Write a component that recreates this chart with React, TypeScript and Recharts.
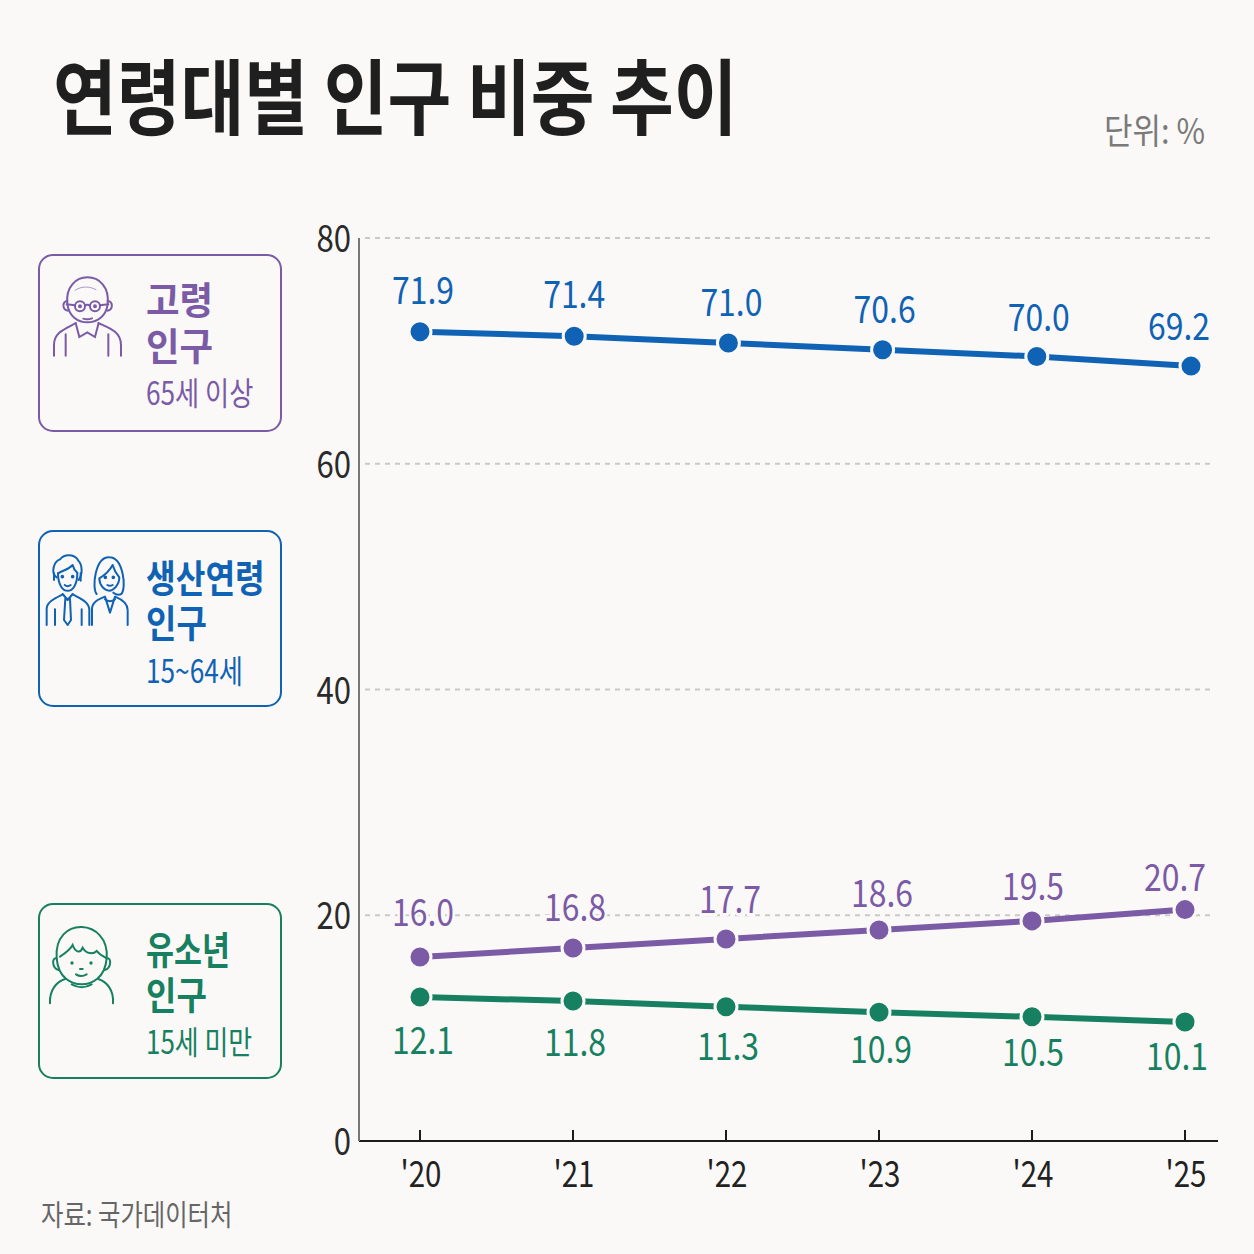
import React from "react";
import { LineChart, Line, XAxis, YAxis, ReferenceLine, LabelList } from "recharts";

const years = [2020, 2021, 2022, 2023, 2024, 2025];
const yTicks = [0, 20, 40, 60, 80];
const gridValues = [20, 40, 60, 80];

// Heights of the plotted marks
const workingPlotted = [71.7, 71.3, 70.7, 70.1, 69.5, 68.65];
const elderlyPlotted = [16.3, 17.1, 17.9, 18.7, 19.5, 20.5];
const youthPlotted = [12.75, 12.4, 11.9, 11.4, 11.0, 10.55];

// Printed value labels
const workingLabels = ["71.9", "71.4", "71.0", "70.6", "70.0", "69.2"];
const elderlyLabels = ["16.0", "16.8", "17.7", "18.6", "19.5", "20.7"];
const youthLabels = ["12.1", "11.8", "11.3", "10.9", "10.5", "10.1"];

const workingDx = [3, 0, 3, 2, 2, -12];
const elderlyDx = [3, 2, 4, 3, 1, -10];
const youthDx = [3, 2, 2, 2, 1, -8];
const workingDy = [-42, -42, -41, -41, -40, -40];
const elderlyDy = [-45, -41, -40, -37, -35, -33];
const youthDy = [43, 41, 39, 37, 35, 34];

const BG = "#faf9f7";
const BLUE = "#0f62b4";
const PURPLE = "#7b5aa6";
const GREEN = "#168060";
const FONT = "'Noto Sans CJK KR', 'Noto Sans', sans-serif";

const rows = (vals: number[]) => years.map((year, i) => ({ year, value: vals[i] }));

function T({ x, y, s = 0.82, size, weight = 400, fill, anchor = "start", children, halo }: any) {
  return (
    <text
      transform={`translate(${x},${y}) scale(${s},1)`}
      textAnchor={anchor}
      fontFamily={FONT}
      fontSize={size}
      fontWeight={weight}
      fill={fill}
      stroke={halo ? BG : undefined}
      strokeWidth={halo ? 6 : undefined}
      paintOrder="stroke"
    >
      {children}
    </text>
  );
}

const makeLabel = (texts: string[], dx: number[], dy: number[], color: string) => (p: any) => {
  const i = p.index;
  return (
    <T x={p.x + dx[i]} y={p.y + dy[i] + 14} size={38} s={0.84} fill={color} anchor="middle" halo>
      {texts[i]}
    </T>
  );
};

const XTick = ({ x, payload }: any) => (
  <g>
    <line x1={x} x2={x} y1={1130} y2={1141} stroke="#1c1c1c" strokeWidth={2} />
    <T x={x + 1} y={1187} size={36} fill="#222" anchor="middle">
      {"'" + String(payload.value).slice(2)}
    </T>
  </g>
);

const YTick = ({ y, payload }: any) => (
  <T x={351} y={y + 14} size={38} fill="#2a2a2a" anchor="end">
    {payload.value}
  </T>
);

const dot = (color: string) => ({ r: 11, fill: color, stroke: BG, strokeWidth: 3 });

function Box({ y, h, color }: any) {
  return <rect x={39} y={y} width={242} height={h} rx={14} fill="none" stroke={color} strokeWidth={2} />;
}

const ElderIcon = () => (
  <g transform="translate(30,245) scale(0.3333)" fill="none" stroke={PURPLE} strokeWidth={6} strokeLinecap="round">
    <path d="M112 178C100 70 245 70 233 178C228 215 200 232 172 232C144 232 118 215 112 178Z" />
    <path d="M112 168C96 168 96 195 114 197M233 168C250 168 250 195 232 197" />
    <path d="M135 136C155 122 180 124 198 134" strokeWidth={3} opacity={0.6} />
    <circle cx={150} cy={184} r={15} /><circle cx={195} cy={184} r={15} />
    <circle cx={150} cy={184} r={3} fill={PURPLE} /><circle cx={195} cy={184} r={3} fill={PURPLE} />
    <path d="M165 182Q172 177 180 182M135 181L110 178M210 181L235 178" />
    <path d="M160 221Q172 225 186 220" />
    <path d="M72 332V300C72 260 110 250 138 234M205 234C240 250 273 260 273 300V332" />
    <path d="M107 268V332M235 268V332" />
    <path d="M138 238L148 276L172 262L195 276L205 238" />
  </g>
);

const WorkersIcon = () => (
  <g transform="translate(30,520) scale(0.3333)" fill="none" stroke={BLUE} strokeWidth={6} strokeLinecap="round" strokeLinejoin="round">
    <path d="M84 160C84 230 142 230 142 160" />
    <path d="M80 172C62 160 70 125 90 118C105 100 135 103 145 122C158 135 158 165 146 180" />
    <path d="M84 160C100 150 115 150 128 135C130 145 135 152 142 158" />
    <path d="M72 160V180M152 160V182" />
    <circle cx={97} cy={170} r={2.5} fill={BLUE} /><circle cx={128} cy={170} r={2.5} fill={BLUE} />
    <path d="M104 195Q113 202 122 195" />
    <path d="M50 315V265C52 245 75 235 97 224M130 224C150 235 178 245 178 270V315" />
    <path d="M75 268V315M155 268V315" />
    <path d="M98 222L113 240L128 222M106 236L120 236L123 300L113 315L102 300Z" />
    <path d="M200 222C185 205 195 110 238 112C280 112 290 205 274 222C265 226 255 222 250 218" />
    <path d="M208 175C225 165 240 150 248 135C252 150 262 165 268 172C268 195 250 212 238 212C222 212 208 195 208 175Z" />
    <circle cx={226} cy={172} r={2.5} fill={BLUE} /><circle cx={250} cy={172} r={2.5} fill={BLUE} />
    <path d="M232 195Q240 200 248 195" />
    <path d="M186 315V265C188 245 205 238 225 230L240 278L255 230C275 238 293 248 293 270V315" />
    <path d="M225 238Q240 250 255 238" />
  </g>
);

const ChildIcon = () => (
  <g transform="translate(30,895) scale(0.3333)" fill="none" stroke={GREEN} strokeWidth={6} strokeLinecap="round">
    <path d="M80 190C70 60 240 70 230 190C225 250 185 268 155 268C125 268 85 250 80 190Z" />
    <path d="M80 190C65 185 65 220 86 225M230 190C245 185 245 220 224 225" />
    <path d="M90 185C105 175 120 165 128 150C135 170 150 178 158 158C170 178 190 178 200 168C208 178 220 185 230 190" />
    <circle cx={126} cy={204} r={5} fill={GREEN} stroke="none" /><circle cx={183} cy={204} r={5} fill={GREEN} stroke="none" />
    <path d="M150 222L158 222" />
    <path d="M138 238Q153 248 170 238" />
    <path d="M60 325C58 285 80 260 105 252M205 252C230 260 252 285 249 325" />
    <path d="M125 268Q155 285 185 268" />
  </g>
);

export default function App() {
  return (
    <div style={{ position: "absolute", left: 0, top: 0, width: 1254, height: 1254, background: BG, overflow: "hidden" }}>
      <svg width={1254} height={1254} style={{ position: "absolute", left: 0, top: 0 }}>
        <T x={53} y={128} s={0.845} size={82} weight={700} fill="#1f1f1f">연령대별 인구 비중 추이</T>
        <T x={1104} y={144} s={0.885} size={35} fill="#7a7a7a">단위: %</T>
        <T x={41} y={1226} s={0.84} size={29} fill="#666">자료: 국가데이터처</T>

        <Box y={255} h={176} color={PURPLE} />
        <ElderIcon />
        <T x={146} y={314} s={0.96} size={38} weight={700} fill={PURPLE}>고령</T>
        <T x={146} y={360} s={0.96} size={38} weight={700} fill={PURPLE}>인구</T>
        <T x={146} y={405} s={0.82} size={32} fill={PURPLE}>65세 이상</T>

        <Box y={531} h={175} color={BLUE} />
        <WorkersIcon />
        <T x={146} y={592} s={0.85} size={38} weight={700} fill={BLUE}>생산연령</T>
        <T x={146} y={637} s={0.87} size={38} weight={700} fill={BLUE}>인구</T>
        <T x={146} y={683} s={0.82} size={32} fill={BLUE}>15~64세</T>

        <Box y={904} h={174} color={GREEN} />
        <ChildIcon />
        <T x={146} y={964} s={0.8} size={38} weight={700} fill={GREEN}>유소년</T>
        <T x={146} y={1009} s={0.87} size={38} weight={700} fill={GREEN}>인구</T>
        <T x={146} y={1054} s={0.81} size={32} fill={GREEN}>15세 미만</T>
      </svg>
      <div style={{ position: "absolute", left: 0, top: 0 }}>
        <LineChart width={1254} height={1254} margin={{ top: 238, right: 36, bottom: 0, left: 0 }}>
          <XAxis
            xAxisId="main"
            type="number"
            dataKey="year"
            domain={[2020 - 61 / 153, 2025 + 33 / 153]}
            ticks={years}
            allowDataOverflow
            height={113}
            axisLine={{ stroke: "#1c1c1c", strokeWidth: 2 }}
            tickLine={false}
            tick={<XTick />}
            interval={0}
          />
          <XAxis
            xAxisId="upper"
            type="number"
            dataKey="year"
            domain={[2020 - 61 / 154.2, 2025 + 27 / 154.2]}
            allowDataOverflow
            hide
          />
          <YAxis
            type="number"
            domain={[0, 80]}
            ticks={yTicks}
            width={359}
            axisLine={{ stroke: "#777", strokeWidth: 2 }}
            tickLine={false}
            tick={<YTick />}
            interval={0}
          />
          {gridValues.map((v) => (
            <ReferenceLine
              key={v}
              xAxisId="main"
              segment={[
                { x: 2020 - 55 / 153, y: v },
                { x: 2025 + 25 / 153, y: v },
              ]}
              stroke="#c9c9c7"
              strokeWidth={2}
              strokeDasharray="5 5"
            />
          ))}
          <Line xAxisId="upper" data={rows(workingPlotted)} dataKey="value" stroke={BLUE} strokeWidth={6} dot={dot(BLUE)} isAnimationActive={false}>
            <LabelList dataKey="value" content={makeLabel(workingLabels, workingDx, workingDy, BLUE)} />
          </Line>
          <Line xAxisId="main" data={rows(elderlyPlotted)} dataKey="value" stroke={PURPLE} strokeWidth={6} dot={dot(PURPLE)} isAnimationActive={false}>
            <LabelList dataKey="value" content={makeLabel(elderlyLabels, elderlyDx, elderlyDy, PURPLE)} />
          </Line>
          <Line xAxisId="main" data={rows(youthPlotted)} dataKey="value" stroke={GREEN} strokeWidth={6} dot={dot(GREEN)} isAnimationActive={false}>
            <LabelList dataKey="value" content={makeLabel(youthLabels, youthDx, youthDy, GREEN)} />
          </Line>
        </LineChart>
      </div>
    </div>
  );
}
